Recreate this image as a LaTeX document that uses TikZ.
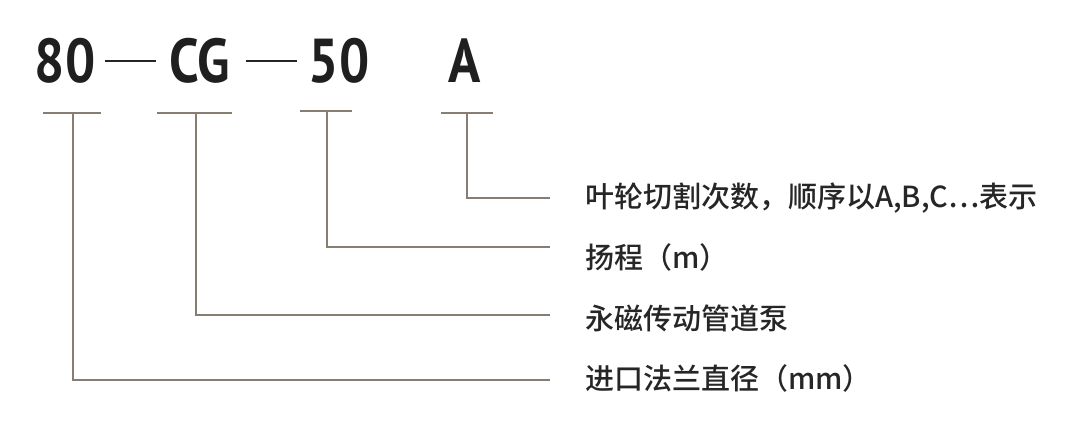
\documentclass[tikz,border=0pt]{standalone}
\usepackage{fontspec}
\setmainfont{PT Sans}
\newfontfamily\cjk{Noto Sans CJK SC Medium}
\begin{document}
\begin{tikzpicture}[x=1pt,y=-1pt,
  code/.style={inner sep=0pt,anchor=base,xscale=0.86,font=\fontsize{62}{62}\selectfont\bfseries,text=black!88},
  lbl/.style={inner sep=0pt,anchor=west,font=\cjk\fontsize{29}{32}\selectfont,text=black!85},
  ln/.style={draw=black!70!brown!60,line width=1.8pt}]
\useasboundingbox (0,0) rectangle (1085,427);
\node[code] (t80) at (65,83) {80};
\node[code] (tcg) at (200,83) {CG};
\node[code] (t50) at (339,83) {50};
\node[code] (ta) at (465,83) {A};
\draw[line width=2.2pt,black!85] (105,61) -- (156,61);
\draw[line width=2.2pt,black!85] (246,61) -- (297,61);
\coordinate (b1l) at (43,113); \coordinate (b1r) at (101,113);
\coordinate (b2l) at (157,113); \coordinate (b2r) at (232,113);
\coordinate (b3l) at (300,111); \coordinate (b3r) at (352,111);
\coordinate (b4l) at (441,113); \coordinate (b4r) at (493,113);
\draw[ln] (b1l) -- (b1r); \draw[ln] (b2l) -- (b2r);
\draw[ln] (b3l) -- (b3r); \draw[ln] (b4l) -- (b4r);
\node[lbl] (l4) at (585,198) {叶轮切割次数，顺序以A,B,C…表示};
\node[lbl] (l3) at (585,257) {扬程（m）};
\node[lbl] (l2) at (585,318) {永磁传动管道泵};
\node[lbl] (l1) at (585,378) {进口法兰直径（mm）};
\coordinate (e4) at (550,198); \coordinate (e3) at (550,247);
\coordinate (e2) at (550,315); \coordinate (e1) at (550,380);
\draw[ln] (467,113) |- (e4);
\draw[ln] (327,111) |- (e3);
\draw[ln] (196,113) |- (e2);
\draw[ln] (73,113) |- (e1);
\end{tikzpicture}
\end{document}
